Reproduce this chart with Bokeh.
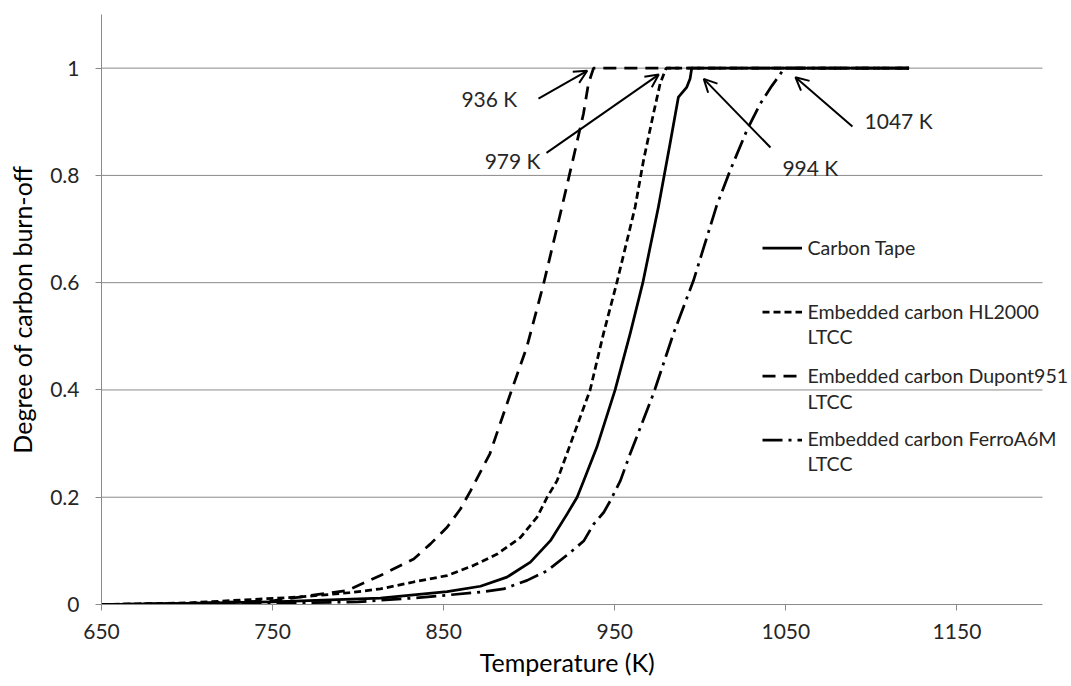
from bokeh.plotting import figure
from bokeh.models import (Range1d, FixedTicker, NumeralTickFormatter, Legend,
                          LegendItem, Label, Arrow, OpenHead)
from bokeh.core.properties import value
from bokeh.embed import file_html
from bokeh.resources import INLINE

# ---------------- data ----------------
tape_T = [650, 700, 750, 813, 852, 871.5, 887, 900.7, 912.4, 922.2, 928, 931.9,
          939.5, 950.2, 959, 966.4, 975.5, 982.3, 987.2, 992, 994, 995, 1122]
tape_D = [0, 0.002, 0.005, 0.012, 0.024, 0.034, 0.051, 0.079, 0.119, 0.169, 0.200,
          0.231, 0.293, 0.400, 0.505, 0.600, 0.741, 0.859, 0.946, 0.964, 0.980,
          1.0, 1.0]

hl2000_T = [650, 700, 766, 795, 813, 832.5, 852, 867.6, 881.3, 894.9, 904.6, 910.5,
            916.3, 922, 935.6, 943.4, 951.2, 961.9, 966.8, 972.6, 976.5, 980, 1122]
hl2000_D = [0, 0.003, 0.014, 0.022, 0.029, 0.042, 0.054, 0.073, 0.094, 0.125, 0.163,
            0.200, 0.231, 0.281, 0.400, 0.505, 0.600, 0.741, 0.828, 0.915, 0.971,
            1.0, 1.0]

dupont_T = [650, 700, 750, 793.5, 813, 832.5, 842.3, 852, 859.8, 865.7, 877, 889,
            898.6, 908.4, 919.1, 925.9, 931.7, 934.6, 937.6, 1122]
dupont_D = [0, 0.002, 0.007, 0.026, 0.054, 0.085, 0.113, 0.144, 0.178, 0.212, 0.281,
            0.393, 0.480, 0.598, 0.741, 0.834, 0.915, 0.971, 1.0, 1.0]

ferro_T = [650, 750, 800, 832.5, 871.5, 885, 898.8, 910.5, 924, 932, 937.7, 943.6,
           947.5, 953.3, 959, 972.6, 984.3, 996, 1009.6, 1017.4, 1027.2, 1034.9,
           1041.8, 1046.6, 1049, 1122]
ferro_D = [0, 0.002, 0.005, 0.012, 0.023, 0.029, 0.045, 0.063, 0.097, 0.119, 0.150,
           0.172, 0.194, 0.231, 0.281, 0.393, 0.505, 0.604, 0.744, 0.809, 0.884,
           0.933, 0.967, 0.988, 1.0, 1.0]

series_names = ["Carbon Tape", "Embedded carbon HL2000", "Embedded carbon Dupont951",
                "Embedded carbon FerroA6M"]
name_suffix = "LTCC"
completion_T = [936, 979, 994, 1047]

x_ticks = [650, 750, 850, 950, 1050, 1150]
x_axis_bounds = (650, 1200)
y_ticks = [0, 0.2, 0.4, 0.6, 0.8, 1]

FONT = "Lato"
TXT = "#262626"
GRID = "#8a8a8a"

# frame runs to the right edge of the page so that the legend text is not clipped;
# the x axis and the grid lines stop at 1200 as in the reference
PX_PER_K = 941 / 550.0
x_end = 650 + 970 / PX_PER_K

p = figure(width=1071, height=686, output_backend="svg", toolbar_location=None,
           x_range=Range1d(650, x_end), y_range=Range1d(0, 1.1),
           min_border_left=101, min_border_right=0, min_border_top=14,
           min_border_bottom=82, background_fill_color="white",
           border_fill_color="white")
p.outline_line_color = None

# horizontal grid lines, limited to the axis extent
p.xgrid.visible = False
p.ygrid.visible = False
grid_y = [t for t in y_ticks if t > 0]
p.segment(x0=[x_axis_bounds[0]] * len(grid_y), x1=[x_axis_bounds[1]] * len(grid_y),
          y0=grid_y, y1=grid_y, line_color=GRID, line_width=1)

# axes
p.xaxis.ticker = FixedTicker(ticks=x_ticks)
p.xaxis.bounds = x_axis_bounds
p.yaxis.ticker = FixedTicker(ticks=y_ticks)
p.yaxis.formatter = NumeralTickFormatter(format="0.[0]")
for ax in (p.xaxis, p.yaxis):
    ax.axis_line_color = GRID
    ax.major_tick_line_color = GRID
    ax.major_tick_out = 6
    ax.major_tick_in = 0
    ax.minor_tick_line_color = None
    ax.major_label_text_font = FONT
    ax.major_label_text_font_size = "21px"
    ax.major_label_text_color = TXT
    ax.axis_label_text_font = FONT
    ax.axis_label_text_font_size = "25px"
    ax.axis_label_text_font_style = "normal"
    ax.axis_label_text_color = "black"
p.xaxis.major_label_standoff = 13
p.xaxis.axis_label_standoff = 5
p.yaxis.major_label_standoff = 16
p.yaxis.axis_label_standoff = 10
# trailing no-break spaces keep the title centred under the 650-1200 axis
p.xaxis.axis_label = "Temperature (K)" + "\u00a0" * 6
p.yaxis.axis_label = "Degree of carbon burn-off"

LW = 2.75
r_tape = p.line(tape_T, tape_D, line_color="black", line_width=LW, line_join="round")
r_hl = p.line(hl2000_T, hl2000_D, line_color="black", line_width=LW, line_dash="7 4")
r_du = p.line(dupont_T, dupont_D, line_color="black", line_width=LW, line_dash="13 8")
r_fe = p.line(ferro_T, ferro_D, line_color="black", line_width=LW, line_dash="20 6 3 6")

# legend keys (glyphs only); the names are drawn as labels
legend = Legend(items=[LegendItem(label=value(" "), renderers=[r])
                       for r in (r_tape, r_hl, r_du, r_fe)],
                location=(661, 152), orientation="vertical", padding=0, margin=0,
                spacing=39, glyph_width=40, glyph_height=25, label_height=25,
                label_standoff=5, label_text_font_size="19px",
                border_line_color=None, background_fill_alpha=0)
p.add_layout(legend)

LEG_X = 1062.6
first_line_y = [0.6654, 0.5461, 0.4268, 0.3094]
second_line_y = [None, 0.4995, 0.3784, 0.2628]
for name, y1, y2 in zip(series_names, first_line_y, second_line_y):
    p.add_layout(Label(x=LEG_X, y=y1, text=name, text_align="left",
                       text_baseline="middle", text_font=FONT,
                       text_font_size="19.6px", text_color=TXT))
    if y2 is not None:
        p.add_layout(Label(x=LEG_X, y=y2, text=name_suffix, text_align="left",
                           text_baseline="middle", text_font=FONT,
                           text_font_size="19.6px", text_color=TXT))

# annotations: arrows + temperature labels
arrows = [((905.4, 0.943), (933.9, 0.995)),
          ((910.1, 0.842), (975.7, 0.988)),
          ((1041.0, 0.852), (1002.0, 0.980)),
          ((1088.9, 0.891), (1055.6, 0.983))]
for (xs, ys), (xe, ye) in arrows:
    p.add_layout(Arrow(end=OpenHead(size=13, line_width=2, line_color="black"),
                       x_start=xs, y_start=ys, x_end=xe, y_end=ye,
                       line_width=2, line_color="black"))

label_pos = [(893.0, 0.943, "right"), (906.6, 0.828, "right"),
             (1048.0, 0.815, "left"), (1096.0, 0.902, "left")]
for (lx, ly, al), t in zip(label_pos, completion_T):
    p.add_layout(Label(x=lx, y=ly, text=f"{t} K", text_align=al,
                       text_baseline="middle", text_font=FONT,
                       text_font_size="21px", text_color=TXT))

open("out.html", "w").write(file_html(p, INLINE))
